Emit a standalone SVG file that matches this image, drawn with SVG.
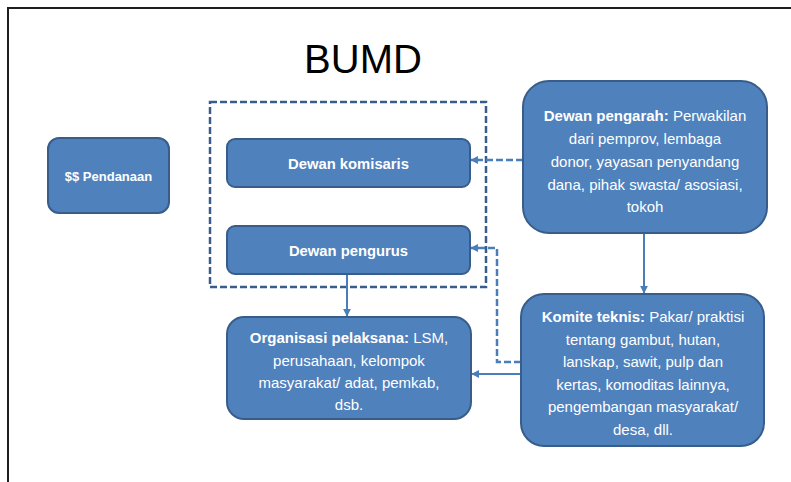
<svg xmlns="http://www.w3.org/2000/svg" width="791" height="482" viewBox="0 0 791 482">
  <defs>
    <style>
      .box { fill: #4F81BD; stroke: #385D8A; stroke-width: 2; }
      .t { font-family: "Liberation Sans", Arial, sans-serif; fill: #FFFFFF; text-anchor: middle; font-size: 15px; }
      .b { font-weight: bold; }
      .solid { fill: none; stroke: #4A7EBB; stroke-width: 2; }
      .dash { fill: none; stroke: #4A7EBB; stroke-width: 2.5; stroke-dasharray: 7 3; }
    </style>
    <marker id="arrow" viewBox="0 0 10 10" refX="9" refY="5" markerWidth="8" markerHeight="8" markerUnits="userSpaceOnUse" orient="auto">
      <path d="M0,0 L10,5 L0,10 z" fill="#4A7EBB"/>
    </marker>
  </defs>

  <rect width="791" height="482" fill="#FFFFFF"/>
  <!-- page frame -->
  <rect x="8" y="8" width="800" height="490" fill="none" stroke="#1E1E1E" stroke-width="2"/>

  <text x="363" y="73" font-family="Liberation Sans, Arial, sans-serif" font-size="40" fill="#000000" text-anchor="middle">BUMD</text>

  <!-- BUMD board group -->
  <rect id="board-frame" x="210" y="102" width="276" height="185" fill="none" stroke="#385D8A" stroke-width="2.5" stroke-dasharray="7 3"/>

  <g id="connectors">
    <path class="dash" d="M523,160 H471" marker-end="url(#arrow)"/>
    <path class="dash" d="M521,362 H497 V248 H471" marker-end="url(#arrow)"/>
    <path class="solid" d="M644,233 V293" marker-end="url(#arrow)"/>
    <path class="solid" d="M347,274 V316" marker-end="url(#arrow)"/>
    <path class="solid" d="M521,374 H472" marker-end="url(#arrow)"/>
  </g>

  <g id="pendanaan">
    <rect class="box" x="48" y="138" width="121" height="75" rx="11"/>
    <text class="t b" x="108.5" y="181" style="font-size:13px">$$ Pendanaan</text>
  </g>

  <g id="dewan-komisaris">
    <rect class="box" x="227" y="139" width="243" height="48" rx="8"/>
    <text class="t b" x="348.5" y="169" style="font-size:14.8px">Dewan komisaris</text>
  </g>

  <g id="dewan-pengurus">
    <rect class="box" x="227" y="226" width="243" height="48" rx="8"/>
    <text class="t b" x="348.5" y="256" style="font-size:14.8px">Dewan pengurus</text>
  </g>

  <g id="dewan-pengarah">
    <rect class="box" x="523" y="81" width="244" height="152" rx="26"/>
    <text class="t" x="645" y="121"><tspan class="b">Dewan pengarah:</tspan> Perwakilan</text>
    <text class="t" x="645" y="144">dari pemprov, lembaga</text>
    <text class="t" x="645" y="167">donor, yayasan penyandang</text>
    <text class="t" x="645" y="190">dana, pihak swasta/ asosiasi,</text>
    <text class="t" x="645" y="212">tokoh</text>
  </g>

  <g id="organisasi-pelaksana">
    <rect class="box" x="227" y="317" width="244" height="102" rx="17"/>
    <text class="t" x="349" y="343"><tspan class="b">Organisasi pelaksana:</tspan> LSM,</text>
    <text class="t" x="349" y="366">perusahaan, kelompok</text>
    <text class="t" x="349" y="388">masyarakat/ adat, pemkab,</text>
    <text class="t" x="349" y="410">dsb.</text>
  </g>

  <g id="komite-teknis">
    <rect class="box" x="521" y="294" width="243" height="152" rx="23"/>
    <text class="t" x="643" y="322"><tspan class="b">Komite teknis:</tspan> Pakar/ praktisi</text>
    <text class="t" x="643" y="345">tentang gambut, hutan,</text>
    <text class="t" x="643" y="367">lanskap, sawit, pulp dan</text>
    <text class="t" x="643" y="390">kertas, komoditas lainnya,</text>
    <text class="t" x="643" y="412">pengembangan masyarakat/</text>
    <text class="t" x="643" y="435">desa, dll.</text>
  </g>
</svg>
